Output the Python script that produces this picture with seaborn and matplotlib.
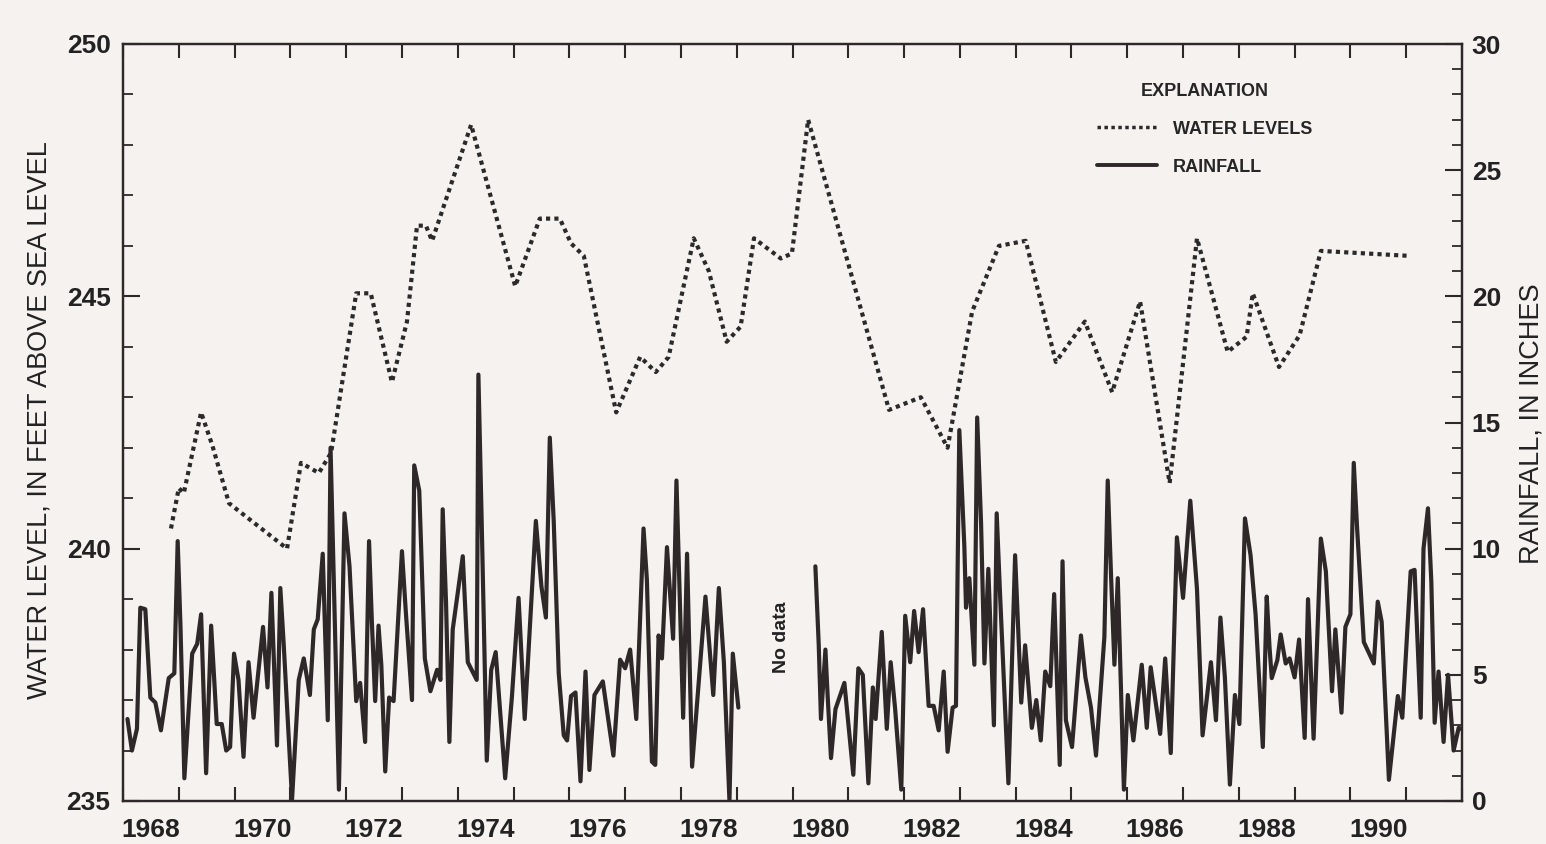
import pandas as pd
import matplotlib
matplotlib.use("Agg")
import matplotlib.pyplot as plt
from matplotlib.lines import Line2D
from matplotlib.ticker import MultipleLocator
import seaborn as sns

# water levels (ft above sea level)
water_year = [1968.86, 1969.00, 1969.09, 1969.40, 1969.60, 1969.90, 1970.94, 1971.19, 1971.51, 1971.73,
              1972.18, 1972.44, 1972.82, 1973.09, 1973.27, 1973.43, 1973.54, 1974.24, 1975.03, 1975.47,
              1975.83, 1976.03, 1976.26, 1976.84, 1977.27, 1977.55, 1977.78, 1978.23, 1978.50, 1978.82,
              1979.07, 1979.31, 1979.79, 1979.99, 1980.28, 1981.73, 1982.30, 1982.78, 1983.22, 1983.70,
              1984.18, 1984.72, 1985.24, 1985.73, 1986.23, 1986.76, 1987.25, 1987.80, 1988.14, 1988.25,
              1988.72, 1989.09, 1989.47, 1991.08]
water_level = [240.4, 241.2, 241.1, 242.7, 242.05, 240.9, 240.0, 241.7, 241.5, 241.9,
               245.06, 245.06, 243.3, 244.5, 246.4, 246.4, 246.1, 248.4, 245.2, 246.54,
               246.54, 246.05, 245.8, 242.7, 243.8, 243.5, 243.8, 246.15, 245.5, 244.1,
               244.4, 246.15, 245.75, 245.85, 248.5, 242.75, 243.0, 242.0, 244.7, 246.0,
               246.1, 243.7, 244.5, 243.1, 244.9, 241.3, 246.15, 243.9, 244.2, 245.06,
               243.6, 244.23, 245.9, 245.8]

# rainfall (inches), 1968 - 1979
rain_year_a = [1968.08, 1968.16, 1968.25, 1968.31, 1968.40, 1968.49, 1968.58, 1968.68, 1968.82, 1968.92,
               1968.98, 1969.03, 1969.10, 1969.24, 1969.33, 1969.40, 1969.49, 1969.58, 1969.68, 1969.77,
               1969.85, 1969.92, 1969.99, 1970.07, 1970.16, 1970.25, 1970.34, 1970.51, 1970.59, 1970.66,
               1970.76, 1970.82, 1970.88, 1971.03, 1971.15, 1971.24, 1971.35, 1971.42, 1971.49, 1971.58,
               1971.67, 1971.72, 1971.87, 1971.97,
               1972.06, 1972.18, 1972.25, 1972.34, 1972.41, 1972.46, 1972.52, 1972.58, 1972.63, 1972.70,
               1972.77, 1972.85, 1973.00, 1973.07, 1973.18, 1973.22, 1973.31, 1973.41, 1973.51, 1973.63,
               1973.69, 1973.73, 1973.79, 1973.85, 1973.91, 1974.09, 1974.18, 1974.34, 1974.37, 1974.43,
               1974.52, 1974.60, 1974.68, 1974.85, 1974.97, 1975.09, 1975.20, 1975.40, 1975.50, 1975.58,
               1975.65, 1975.72, 1975.81, 1975.90, 1975.96, 1976.03,
               1976.11, 1976.20, 1976.29, 1976.36, 1976.45, 1976.60, 1976.79, 1976.91, 1977.00, 1977.09,
               1977.20, 1977.33, 1977.39, 1977.48, 1977.54, 1977.60, 1977.66, 1977.75, 1977.86, 1977.92,
               1978.04, 1978.11, 1978.20, 1978.44, 1978.58, 1978.68, 1978.77, 1978.87, 1978.93, 1979.03]
rain_a = [3.25, 2.0, 2.86, 7.66, 7.6, 4.1, 3.9, 2.8, 4.87, 5.06,
          10.3, 6.95, 0.9, 5.84, 6.23, 7.4, 1.1, 6.95, 3.05, 3.05,
          2.0, 2.14, 5.84, 4.8, 1.75, 5.5, 3.3, 6.9, 4.5, 8.25,
          2.2, 8.44, 6.23, 0.06, 4.8, 5.65, 4.2, 6.8, 7.2, 9.8,
          3.2, 14.0, 0.45, 11.4,
          9.3, 3.96, 4.68, 2.34, 10.3, 7.14, 3.96, 6.95, 5.4, 1.17,
          4.1, 3.96, 9.9, 7.47, 4.0, 13.3, 12.3, 5.65, 4.35, 5.2,
          4.8, 11.56, 7.86, 2.34, 6.8, 9.7, 5.5, 4.8, 16.9, 10.97,
          1.6, 5.2, 5.9, 0.9, 4.1, 8.05, 3.25, 11.1, 8.5, 7.27,
          14.4, 11.1, 5.06, 2.6, 2.4, 4.16,
          4.3, 0.78, 5.13, 1.23, 4.2, 4.74, 1.8, 5.6, 5.26, 6.0,
          3.25, 10.8, 8.77, 1.56, 1.43, 6.56, 5.65, 10.06, 6.43, 12.7,
          3.3, 9.8, 1.36, 8.1, 4.2, 8.44, 5.5, 0.0, 5.84, 3.7]

# rainfall (inches), 1980 - 1992
rain_year_b = [1980.41, 1980.47, 1980.51, 1980.59, 1980.63, 1980.69, 1980.77, 1980.93, 1981.09, 1981.18,
               1981.26, 1981.36, 1981.44, 1981.49, 1981.60, 1981.69, 1981.76, 1981.84, 1981.95, 1982.02,
               1982.11, 1982.18, 1982.26, 1982.34, 1982.44, 1982.53, 1982.62, 1982.71, 1982.78, 1982.87,
               1982.93, 1982.99, 1983.08, 1983.11, 1983.17, 1983.26, 1983.31, 1983.38, 1983.44, 1983.51,
               1983.61, 1983.66, 1983.72, 1983.87, 1983.99, 1984.10,
               1984.17, 1984.29, 1984.37, 1984.45, 1984.53, 1984.62, 1984.69, 1984.79, 1984.84, 1984.90,
               1985.01, 1985.17, 1985.25, 1985.35, 1985.44, 1985.59, 1985.65, 1985.71, 1985.77, 1985.83,
               1985.94, 1986.01, 1986.11, 1986.26, 1986.35, 1986.42, 1986.59, 1986.68, 1986.78, 1986.89,
               1987.00, 1987.13, 1987.25, 1987.35, 1987.50, 1987.59, 1987.67, 1987.75, 1987.84, 1987.93,
               1988.01, 1988.11,
               1988.21, 1988.30, 1988.43, 1988.50, 1988.55, 1988.59, 1988.69, 1988.75, 1988.84, 1988.91,
               1989.00, 1989.08, 1989.18, 1989.24, 1989.34, 1989.47, 1989.56, 1989.67, 1989.73, 1989.84,
               1989.91, 1990.00, 1990.06, 1990.12, 1990.24, 1990.42, 1990.49, 1990.56, 1990.69, 1990.85,
               1990.93, 1991.08, 1991.15, 1991.26, 1991.31, 1991.39, 1991.45, 1991.51, 1991.58, 1991.67,
               1991.75, 1991.85, 1991.94, 1991.99]
rain_b = [9.3, 6.2, 3.25, 6.0, 4.16, 1.7, 3.64, 4.68, 1.04, 5.26,
          5.0, 0.7, 4.5, 3.25, 6.7, 2.86, 5.5, 3.64, 0.45, 7.34,
          5.5, 7.53, 5.9, 7.6, 3.77, 3.77, 2.8, 5.13, 1.95, 3.7,
          3.77, 14.7, 10.1, 7.66, 8.83, 5.4, 15.2, 11.0, 5.45, 9.2,
          3.0, 11.4, 8.2, 0.7, 9.74, 3.9,
          6.17, 2.9, 4.0, 2.4, 5.13, 4.55, 8.2, 1.43, 9.5, 3.2,
          2.14, 6.56, 4.9, 3.7, 1.8, 6.5, 12.7, 8.9, 5.4, 8.83,
          0.45, 4.2, 2.4, 5.4, 2.9, 5.3, 2.66, 5.65, 1.9, 10.45,
          8.05, 11.9, 8.4, 2.6, 5.5, 3.2, 7.27, 4.9, 0.65, 4.2,
          3.05, 11.2,
          9.74, 7.4, 2.14, 8.1, 6.1, 4.87, 5.58, 6.6, 5.45, 5.65,
          4.9, 6.4, 2.5, 8.0, 2.47, 10.4, 9.1, 4.35, 6.8, 3.5,
          6.9, 7.4, 13.4, 10.8, 6.3, 5.45, 7.9, 7.1, 0.84, 4.16,
          3.3, 9.1, 9.16, 3.3, 10.0, 11.6, 8.7, 3.1, 5.13, 2.34,
          5.0, 2.0, 2.9, 2.86]

year_ticks = list(range(1968, 1993))
year_labels = ["1968", "1970", "1972", "1974", "1976", "1978", "1980", "1982", "1984", "1986", "1988", "1990"]

df_water = pd.DataFrame({"year": water_year, "level": water_level})
df_rain = pd.concat([
    pd.DataFrame({"year": rain_year_a, "rain": rain_a, "seg": 0}),
    pd.DataFrame({"year": rain_year_b, "rain": rain_b, "seg": 1}),
])

sns.set_style("white")
plt.rcParams["font.family"] = ["Liberation Sans", "DejaVu Sans"]

bg = "#f6f2f0"
ink = "#2e2828"

fig, ax = plt.subplots(figsize=(15.46, 8.44), dpi=100)
fig.patch.set_facecolor(bg)
ax.set_facecolor(bg)
fig.subplots_adjust(left=123/1546, right=1462/1546, bottom=1-801/844, top=1-44/844)
ax2 = ax.twinx()

sns.lineplot(data=df_water, x="year", y="level", ax=ax, color="#2a2a2a", linewidth=3,
             linestyle=(0, (1.0, 1.0)), estimator=None, sort=False)
sns.lineplot(data=df_rain, x="year", y="rain", units="seg", estimator=None, ax=ax2,
             color=ink, linewidth=3.0)

ax.set_xlim(1968, 1992)
ax.set_ylim(235, 250)
ax2.set_ylim(0, 30)

# year ticks on both bottom and top, labels centred in even years
ax.set_xticks(year_ticks)
ax.set_xticklabels([])
ax.set_xticks([int(s) + 0.5 for s in year_labels], minor=True)
ax.set_xticklabels(year_labels, minor=True)
ax.tick_params(axis="x", which="major", direction="in", length=10, width=1.5, top=True, bottom=True, color=ink)
ax.tick_params(axis="x", which="minor", length=0, pad=12, labelsize=19)

ax.yaxis.set_major_locator(MultipleLocator(5))
ax.yaxis.set_minor_locator(MultipleLocator(1))
ax.tick_params(axis="y", which="major", direction="in", length=12, width=1.5, pad=9, labelsize=19, color=ink)
ax.tick_params(axis="y", which="minor", direction="in", length=7, width=1.3, color=ink)

ax2.yaxis.set_major_locator(MultipleLocator(5))
ax2.yaxis.set_minor_locator(MultipleLocator(1))
ax2.tick_params(axis="y", which="major", direction="in", length=12, width=1.5, pad=7, labelsize=19, color=ink)
ax2.tick_params(axis="y", which="minor", direction="in", length=7, width=1.3, color=ink)

for a in (ax, ax2):
    for sp in a.spines.values():
        sp.set_visible(True)
        sp.set_linewidth(1.6)
        sp.set_color(ink)
    a.set_xlabel("")
    a.set_ylabel("")
    for lab in a.get_xticklabels(minor=True) + a.get_yticklabels():
        lab.set_fontweight("bold")
        lab.set_color("#222222")

fig.text(40/1546, 1-420/844, "WATER LEVEL, IN FEET ABOVE SEA LEVEL", rotation=90,
         ha="center", va="center", fontsize=19.5, color="#222222")
fig.text(1532/1546, 1-424/844, "RAINFALL, IN INCHES", rotation=90,
         ha="center", va="center", fontsize=19.5, color="#222222")

ax.text(1979.81, 238.25, "No data", rotation=90, ha="center", va="center",
        fontsize=14, fontweight="bold", color="#222222")

handles = [Line2D([], [], color="#2a2a2a", linewidth=2.5, linestyle=(0, (1.0, 1.0))),
           Line2D([], [], color=ink, linewidth=2.8)]
leg = ax2.legend(handles, ["WATER LEVELS", "RAINFALL"], title="EXPLANATION",
                 loc="upper left", bbox_to_anchor=(1088/1546, 1-74/844), bbox_transform=fig.transFigure,
                 frameon=False, borderpad=0, handlelength=3.3, handletextpad=0.9, labelspacing=1.15,
                 prop={"weight": "bold", "size": 13}, title_fontproperties={"weight": "bold", "size": 13})

fig.savefig("out.png", dpi=100, facecolor=bg)
